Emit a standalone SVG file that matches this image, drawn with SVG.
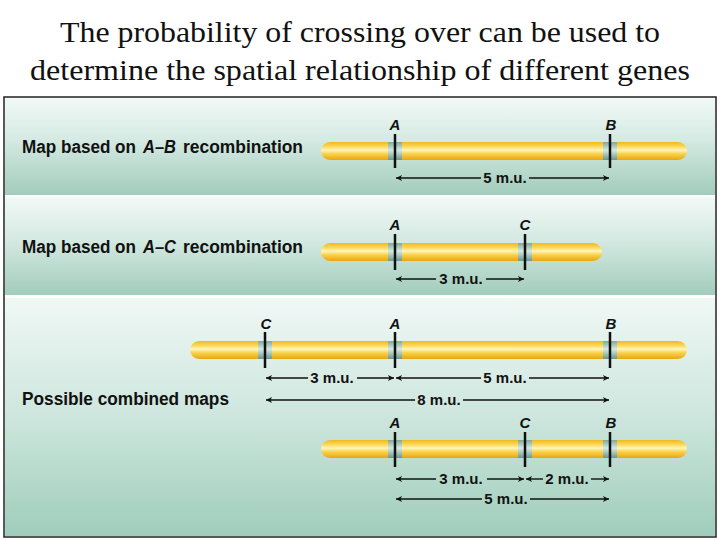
<svg xmlns="http://www.w3.org/2000/svg" width="720" height="540" viewBox="0 0 720 540">
  <defs>
    <linearGradient id="panelGrad" x1="0" y1="0" x2="0" y2="1">
      <stop offset="0" stop-color="#f2f9f7"/>
      <stop offset="0.45" stop-color="#d3e9e1"/>
      <stop offset="1" stop-color="#a2ccbc"/>
    </linearGradient>
    <linearGradient id="panelGrad3" x1="0" y1="0" x2="0" y2="1">
      <stop offset="0" stop-color="#f0f8f6"/>
      <stop offset="0.5" stop-color="#cde6dd"/>
      <stop offset="1" stop-color="#9fcdbb"/>
    </linearGradient>
    <linearGradient id="barGrad" x1="0" y1="0" x2="0" y2="1">
      <stop offset="0" stop-color="#f0b820"/>
      <stop offset="0.28" stop-color="#fddc60"/>
      <stop offset="0.45" stop-color="#fff6c0"/>
      <stop offset="0.65" stop-color="#fbd24a"/>
      <stop offset="1" stop-color="#e8a514"/>
    </linearGradient>
    <linearGradient id="bandGrad" x1="0" y1="0" x2="0" y2="1">
      <stop offset="0" stop-color="#7fa79a"/>
      <stop offset="0.45" stop-color="#d5e9e2"/>
      <stop offset="1" stop-color="#6b978a"/>
    </linearGradient>
    <marker id="ah" viewBox="0 0 10 10" refX="10" refY="5" markerWidth="8" markerHeight="6" markerUnits="userSpaceOnUse" orient="auto">
      <path d="M0,0 L10,5 L0,10 L2.5,5 Z" fill="#111"/>
    </marker>
    <style>
      .title { font-family: "Liberation Serif", "Times New Roman", serif; font-size: 30px; fill: #111; }
      .lbl { font-family: "Liberation Sans", Arial, sans-serif; font-weight: bold; font-size: 18px; fill: #111; }
      .it { font-style: italic; }
      .gene { font-family: "Liberation Sans", Arial, sans-serif; font-weight: bold; font-style: italic; font-size: 15px; fill: #111; text-anchor: middle; }
      .mu { font-family: "Liberation Sans", Arial, sans-serif; font-weight: bold; font-size: 15px; fill: #111; text-anchor: middle; }
      .bar { fill: url(#barGrad); }
      .band { fill: url(#bandGrad); }
      .tick { stroke: #111; stroke-width: 2.5; }
      .arr { stroke: #111; stroke-width: 1.4; fill: none; marker-end: url(#ah); }
    </style>
  </defs>

  <rect x="0" y="0" width="720" height="540" fill="#ffffff"/>

  <g id="title">
    <text class="title" x="360" y="42" text-anchor="middle" textLength="600" lengthAdjust="spacingAndGlyphs">The probability of crossing over can be used to</text>
    <text class="title" x="360" y="80" text-anchor="middle" textLength="660" lengthAdjust="spacingAndGlyphs">determine the spatial relationship of different genes</text>
  </g>

  <g id="frame">
    <rect x="4" y="97" width="712" height="440" fill="#ffffff" stroke="#222" stroke-width="1.5"/>
    <rect x="5" y="98" width="710" height="97" fill="url(#panelGrad)"/>
    <rect x="5" y="197" width="710" height="98" fill="url(#panelGrad)"/>
    <rect x="5" y="298" width="710" height="238" fill="url(#panelGrad3)"/>
  </g>

  <g id="panel1">
    <text class="lbl" x="22" y="153" textLength="114" lengthAdjust="spacingAndGlyphs">Map based on</text>
    <text class="lbl it" x="143" y="153" textLength="33" lengthAdjust="spacingAndGlyphs">A–B</text>
    <text class="lbl" x="183" y="153" textLength="120" lengthAdjust="spacingAndGlyphs">recombination</text>
    <g id="chrom1">
      <rect class="bar" x="321" y="142" width="366" height="18" rx="9"/>
      <rect class="band" x="388" y="142" width="14" height="18"/>
      <rect class="band" x="603" y="142" width="14" height="18"/>
      <line class="tick" x1="395" y1="134" x2="395" y2="168"/>
      <line class="tick" x1="610" y1="134" x2="610" y2="168"/>
      <text class="gene" x="395" y="130">A</text>
      <text class="gene" x="611" y="130">B</text>
    </g>
  </g>

  <g id="panel2">
    <text class="lbl" x="22" y="253" textLength="114" lengthAdjust="spacingAndGlyphs">Map based on</text>
    <text class="lbl it" x="143" y="253" textLength="33" lengthAdjust="spacingAndGlyphs">A–C</text>
    <text class="lbl" x="183" y="253" textLength="120" lengthAdjust="spacingAndGlyphs">recombination</text>
    <g id="chrom2">
      <rect class="bar" x="321" y="243" width="281" height="18" rx="9"/>
      <rect class="band" x="388" y="243" width="14" height="18"/>
      <rect class="band" x="518" y="243" width="14" height="18"/>
      <line class="tick" x1="395" y1="234" x2="395" y2="270"/>
      <line class="tick" x1="525" y1="234" x2="525" y2="270"/>
      <text class="gene" x="395" y="230">A</text>
      <text class="gene" x="525" y="230">C</text>
    </g>
  </g>

  <g id="panel3">
    <text class="lbl" x="22" y="405" textLength="207" lengthAdjust="spacingAndGlyphs">Possible combined maps</text>
    <g id="chrom3">
      <rect class="bar" x="190" y="341" width="497" height="18" rx="9"/>
      <rect class="band" x="258" y="341" width="14" height="18"/>
      <rect class="band" x="388" y="341" width="14" height="18"/>
      <rect class="band" x="603" y="341" width="14" height="18"/>
      <line class="tick" x1="265" y1="332" x2="265" y2="368"/>
      <line class="tick" x1="395" y1="332" x2="395" y2="368"/>
      <line class="tick" x1="610" y1="332" x2="610" y2="368"/>
      <text class="gene" x="266" y="329">C</text>
      <text class="gene" x="395" y="329">A</text>
      <text class="gene" x="611" y="329">B</text>
    </g>
    <g id="chrom4">
      <rect class="bar" x="321" y="440" width="366" height="18" rx="9"/>
      <rect class="band" x="388" y="440" width="14" height="18"/>
      <rect class="band" x="518" y="440" width="14" height="18"/>
      <rect class="band" x="603" y="440" width="14" height="18"/>
      <line class="tick" x1="395" y1="432" x2="395" y2="467"/>
      <line class="tick" x1="525" y1="432" x2="525" y2="467"/>
      <line class="tick" x1="610" y1="432" x2="610" y2="467"/>
      <text class="gene" x="395" y="428">A</text>
      <text class="gene" x="525" y="428">C</text>
      <text class="gene" x="611" y="428">B</text>
    </g>
  </g>

  <g id="connectors">
    <line class="arr" x1="481" y1="178" x2="396" y2="178"/>
    <line class="arr" x1="529" y1="178" x2="609" y2="178"/>
    <text class="mu" x="505" y="183">5 m.u.</text>
    <line class="arr" x1="436" y1="279" x2="396" y2="279"/>
    <line class="arr" x1="486" y1="279" x2="524" y2="279"/>
    <text class="mu" x="461" y="284">3 m.u.</text>
    <line class="arr" x1="308" y1="378" x2="266" y2="378"/>
    <line class="arr" x1="357" y1="378" x2="394" y2="378"/>
    <text class="mu" x="332" y="383">3 m.u.</text>
    <line class="arr" x1="481" y1="378" x2="396" y2="378"/>
    <line class="arr" x1="529" y1="378" x2="609" y2="378"/>
    <text class="mu" x="505" y="383">5 m.u.</text>
    <line class="arr" x1="415" y1="400" x2="266" y2="400"/>
    <line class="arr" x1="463" y1="400" x2="609" y2="400"/>
    <text class="mu" x="439" y="405">8 m.u.</text>
    <line class="arr" x1="436" y1="479" x2="396" y2="479"/>
    <line class="arr" x1="487" y1="479" x2="524" y2="479"/>
    <text class="mu" x="461" y="484">3 m.u.</text>
    <line class="arr" x1="543" y1="479" x2="526" y2="479"/>
    <line class="arr" x1="591" y1="479" x2="609" y2="479"/>
    <text class="mu" x="567" y="484">2 m.u.</text>
    <line class="arr" x1="482" y1="499" x2="396" y2="499"/>
    <line class="arr" x1="530" y1="499" x2="609" y2="499"/>
    <text class="mu" x="506" y="504">5 m.u.</text>
  </g>
</svg>
